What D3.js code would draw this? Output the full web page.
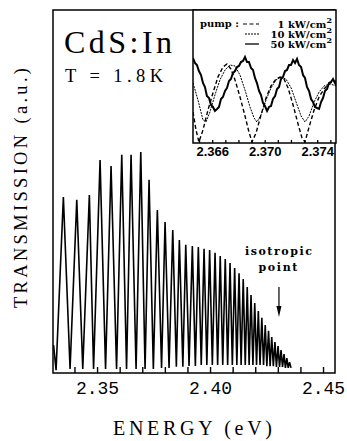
<!DOCTYPE html>
<html><head><meta charset="utf-8">
<script src="https://cdn.jsdelivr.net/npm/d3@7"></script>
<style>
html,body{margin:0;padding:0;background:#fff;}
svg{display:block;}
</style></head>
<body>
<svg id="c" width="347" height="441"></svg>
<script>
// ---------- DATA ----------
// main spectrum: vertices (fringe peaks and minima)
const mainEnergy = [2.33075, 2.33186, 2.33509, 2.33805, 2.34102, 2.34367, 2.34659, 2.34845, 2.35133, 2.35376, 2.35619, 2.35863, 2.36093, 2.36305, 2.36504, 2.36726, 2.36934, 2.37124, 2.37301, 2.37491, 2.37668, 2.37854, 2.38009, 2.38186, 2.38350, 2.38509, 2.38642, 2.38797, 2.38925, 2.39071, 2.39217, 2.39350, 2.39482, 2.39611, 2.39735, 2.39858, 2.39982, 2.40102, 2.40221, 2.40336, 2.40451, 2.40562, 2.40673, 2.40779, 2.40885, 2.40987, 2.41089, 2.41186, 2.41283, 2.41376, 2.41469, 2.41558, 2.41646, 2.41730, 2.41814, 2.41898, 2.41978, 2.42058, 2.42137, 2.42212, 2.42292, 2.42367, 2.42443, 2.42513, 2.42589, 2.42659, 2.42730, 2.42801, 2.42872, 2.42938, 2.43009, 2.43075, 2.43142, 2.43208, 2.43274, 2.43336, 2.43398, 2.43460, 2.43518, 2.43584];
const mainTrans = [0.077, 0.008, 0.485, 0.011, 0.477, 0.011, 0.490, 0.011, 0.587, 0.011, 0.570, 0.011, 0.601, 0.011, 0.601, 0.011, 0.609, 0.011, 0.532, 0.011, 0.449, 0.014, 0.416, 0.014, 0.394, 0.017, 0.366, 0.017, 0.353, 0.019, 0.350, 0.019, 0.347, 0.022, 0.342, 0.022, 0.339, 0.022, 0.331, 0.022, 0.322, 0.022, 0.314, 0.022, 0.303, 0.022, 0.289, 0.022, 0.275, 0.022, 0.259, 0.022, 0.237, 0.022, 0.215, 0.022, 0.193, 0.022, 0.171, 0.022, 0.152, 0.022, 0.132, 0.019, 0.116, 0.019, 0.099, 0.019, 0.085, 0.017, 0.074, 0.017, 0.063, 0.017, 0.052, 0.014, 0.041, 0.014, 0.030, 0.014];

const mainTicks = [2.34, 2.35, 2.36, 2.37, 2.38, 2.39, 2.40, 2.41, 2.42, 2.43, 2.44, 2.45];
const mainTickLabels = ["2.35", "2.40", "2.45"];

// inset: 1 kW/cm2 (dashed)
const e1 = [2.36454, 2.36477, 2.36499, 2.36530, 2.36568, 2.36606, 2.36644, 2.36682, 2.36713, 2.36743, 2.36774, 2.36812, 2.36850, 2.36880, 2.36903, 2.36934, 2.36972, 2.37010, 2.37048, 2.37086, 2.37117, 2.37147, 2.37178, 2.37216, 2.37254, 2.37284, 2.37307, 2.37338, 2.37376, 2.37414, 2.37452, 2.37498, 2.37543];
const t1 = [0.233, 0.098, 0.008, 0.098, 0.248, 0.376, 0.496, 0.571, 0.594, 0.556, 0.474, 0.346, 0.203, 0.083, 0.008, 0.075, 0.211, 0.338, 0.429, 0.481, 0.496, 0.481, 0.414, 0.286, 0.143, 0.038, 0.008, 0.120, 0.248, 0.346, 0.406, 0.451, 0.466];
// inset: 10 kW/cm2 (dotted)
const e10 = [2.36454, 2.36492, 2.36530, 2.36553, 2.36583, 2.36621, 2.36659, 2.36698, 2.36736, 2.36774, 2.36812, 2.36850, 2.36888, 2.36919, 2.36941, 2.36972, 2.37010, 2.37048, 2.37086, 2.37124, 2.37162, 2.37201, 2.37239, 2.37277, 2.37307, 2.37338, 2.37376, 2.37414, 2.37452, 2.37498, 2.37543];
const t10 = [0.451, 0.323, 0.173, 0.158, 0.233, 0.361, 0.474, 0.549, 0.586, 0.579, 0.511, 0.398, 0.271, 0.188, 0.158, 0.211, 0.323, 0.414, 0.474, 0.496, 0.481, 0.414, 0.308, 0.203, 0.158, 0.203, 0.308, 0.383, 0.429, 0.444, 0.429];
// inset: 50 kW/cm2 (solid)
const e50 = [2.36454, 2.36469, 2.36484, 2.36499, 2.36515, 2.36530, 2.36545, 2.36560, 2.36576, 2.36591, 2.36606, 2.36621, 2.36637, 2.36652, 2.36667, 2.36682, 2.36698, 2.36713, 2.36728, 2.36743, 2.36758, 2.36774, 2.36789, 2.36804, 2.36819, 2.36835, 2.36850, 2.36865, 2.36880, 2.36896, 2.36911, 2.36926, 2.36941, 2.36957, 2.36972, 2.36987, 2.37002, 2.37018, 2.37033, 2.37048, 2.37063, 2.37079, 2.37094, 2.37109, 2.37124, 2.37139, 2.37155, 2.37170, 2.37185, 2.37200, 2.37216, 2.37231, 2.37246, 2.37261, 2.37277, 2.37292, 2.37307, 2.37322, 2.37338, 2.37353, 2.37368, 2.37383, 2.37399, 2.37414, 2.37429, 2.37444, 2.37459, 2.37475, 2.37490, 2.37505, 2.37520, 2.37543];
const t50 = [0.639, 0.602, 0.586, 0.541, 0.511, 0.451, 0.421, 0.353, 0.338, 0.286, 0.271, 0.241, 0.256, 0.271, 0.331, 0.346, 0.391, 0.414, 0.466, 0.481, 0.526, 0.541, 0.571, 0.579, 0.609, 0.617, 0.647, 0.609, 0.609, 0.564, 0.549, 0.489, 0.451, 0.391, 0.361, 0.301, 0.278, 0.241, 0.271, 0.278, 0.331, 0.353, 0.406, 0.421, 0.481, 0.496, 0.541, 0.549, 0.586, 0.586, 0.624, 0.602, 0.632, 0.586, 0.571, 0.511, 0.489, 0.421, 0.391, 0.331, 0.308, 0.271, 0.263, 0.256, 0.308, 0.338, 0.391, 0.406, 0.451, 0.459, 0.481, 0.436];

const insetTicks = [2.365, 2.366, 2.367, 2.368, 2.369, 2.370, 2.371, 2.372, 2.373, 2.374, 2.375];
const insetTickLabels = ["2.366", "2.370", "2.374"];
const legendLabels = ["1 kW/cm", "10 kW/cm", "50 kW/cm"];
const isotropicEnergy = 2.4305;

// ---------- DRAW ----------
const svg = d3.select("#c");
const L = 53, R = 335, T = 10, B = 373;
const x = d3.scaleLinear().domain([2.3305, 2.4553]).range([L, R]);
const y = d3.scaleLinear().domain([0, 1]).range([B, T]);

const serif = "'DejaVu Serif', 'Liberation Serif', serif";
const light = "'Liberation Serif', 'DejaVu Serif', serif";
const mono = "'Liberation Mono', 'DejaVu Sans Mono', monospace";

// main curve
const lineMain = d3.line().x(d => x(d[0])).y(d => y(d[1]));
svg.append("path")
  .datum(mainEnergy.map((e, i) => [e, mainTrans[i]]))
  .attr("d", lineMain)
  .attr("fill", "none").attr("stroke", "#000").attr("stroke-width", 1.6)
  .attr("stroke-linejoin", "miter").attr("stroke-miterlimit", 3);

// main x axis
const ax = d3.axisBottom(x).tickValues(mainTicks)
  .tickSizeInner(-6).tickSizeOuter(0).tickPadding(8)
  .tickFormat(d => { const s = d3.format(".2f")(d); return mainTickLabels.includes(s) ? s : ""; });
const gx = svg.append("g").attr("transform", `translate(0,${B})`).call(ax);
gx.select(".domain").remove();
gx.selectAll(".tick line").attr("stroke", "#000").attr("stroke-width", 1.4);
gx.selectAll(".tick text").attr("font-family", mono).attr("font-size", 18).attr("fill", "#000");

// frame
svg.append("rect").attr("x", L).attr("y", T).attr("width", R - L).attr("height", B - T)
  .attr("fill", "none").attr("stroke", "#000").attr("stroke-width", 1.5);

// axis titles
svg.append("text").attr("x", 192.5).attr("y", 435).attr("text-anchor", "middle")
  .attr("font-family", light).attr("font-size", 20)
  .attr("textLength", 159).attr("lengthAdjust", "spacing").text("ENERGY (eV)");
svg.append("text").attr("transform", "translate(27,188) rotate(-90)").attr("text-anchor", "middle")
  .attr("font-family", light).attr("font-size", 18.5)
  .attr("textLength", 240).attr("lengthAdjust", "spacing").text("TRANSMISSION (a.u.)");

// title texts
svg.append("text").attr("x", 64).attr("y", 53).attr("font-family", light).attr("font-size", 32)
  .attr("textLength", 108).attr("lengthAdjust", "spacing").text("CdS:In");
svg.append("text").attr("x", 65).attr("y", 82).attr("font-family", light).attr("font-size", 18.5)
  .attr("textLength", 98).attr("lengthAdjust", "spacing").text("T = 1.8K");

// isotropic point
const isoX = x(isotropicEnergy);
svg.append("text").attr("x", isoX - 0.5).attr("y", 255).attr("text-anchor", "middle")
  .attr("font-family", serif).attr("font-weight", "bold").attr("font-size", 11)
  .attr("textLength", 67).attr("lengthAdjust", "spacing").text("isotropic");
svg.append("text").attr("x", isoX - 1).attr("y", 271).attr("text-anchor", "middle")
  .attr("font-family", serif).attr("font-weight", "bold").attr("font-size", 11)
  .attr("textLength", 39).attr("lengthAdjust", "spacing").text("point");
svg.append("line").attr("x1", isoX).attr("x2", isoX).attr("y1", 287).attr("y2", 310)
  .attr("stroke", "#000").attr("stroke-width", 1.2);
svg.append("path").attr("d", `M${isoX - 2.5},${306} L${isoX + 2.5},${306} L${isoX},${317} Z`).attr("fill", "#000");

// ---------- INSET ----------
const iL = 193, iR = 336, iT = 10, iB = 143;
const xi = d3.scaleLinear().domain([2.36454, 2.37543]).range([iL, iR]);
const yi = d3.scaleLinear().domain([0, 1]).range([iB, iT]);
svg.append("rect").attr("x", iL).attr("y", iT).attr("width", iR - iL).attr("height", iB - iT)
  .attr("fill", "#fff").attr("stroke", "none");
const lineI = d3.line().x(d => xi(d[0])).y(d => yi(d[1]));
const series = [
  {e: e1, t: t1, dash: "4,2.5", w: 1.4},
  {e: e10, t: t10, dash: "2,1", w: 1.0},
  {e: e50, t: t50, dash: null, w: 2.0}
];
svg.append("clipPath").attr("id", "ic").append("rect")
  .attr("x", iL).attr("y", iT).attr("width", iR - iL).attr("height", iB - iT);
series.forEach(s => {
  svg.append("path").datum(s.e.map((e, i) => [e, s.t[i]]))
    .attr("d", lineI).attr("clip-path", "url(#ic)")
    .attr("fill", "none").attr("stroke", "#000").attr("stroke-width", s.w)
    .attr("stroke-dasharray", s.dash);
});
const axi = d3.axisBottom(xi).tickValues(insetTicks)
  .tickSizeInner(-3).tickSizeOuter(0).tickPadding(4)
  .tickFormat(d => { const s = d3.format(".3f")(d); return insetTickLabels.includes(s) ? s : ""; });
const gxi = svg.append("g").attr("transform", `translate(0,${iB})`).call(axi);
gxi.select(".domain").remove();
gxi.selectAll(".tick line").attr("stroke", "#000").attr("stroke-width", 1.3);
gxi.selectAll(".tick text").attr("font-family", "'Liberation Sans', Arial, sans-serif")
  .attr("font-weight", "bold").attr("font-size", 13).attr("fill", "#000");
svg.append("rect").attr("x", iL).attr("y", iT).attr("width", iR - iL).attr("height", iB - iT)
  .attr("fill", "none").attr("stroke", "#000").attr("stroke-width", 1.5);

// legend
svg.append("text").attr("x", 200).attr("y", 27).attr("font-family", serif).attr("font-weight", "bold")
  .attr("font-size", 10).text("pump :");
const legY = [24, 34, 44];
legendLabels.forEach((lab, i) => {
  const s = series[i];
  svg.append("line").attr("x1", i === 0 ? 243 : 245).attr("x2", 259).attr("y1", legY[i]).attr("y2", legY[i])
    .attr("stroke", "#000").attr("stroke-width", i === 2 ? 1.3 : 1.2).attr("stroke-dasharray", s.dash);
  const t = svg.append("text").attr("x", 332).attr("y", legY[i] + 3.5).attr("text-anchor", "end")
    .attr("font-family", serif).attr("font-weight", "bold").attr("font-size", 10);
  t.append("tspan").text(lab);
  t.append("tspan").attr("dy", -5).attr("font-size", 8).text("2");
});
</script>
</body></html>
